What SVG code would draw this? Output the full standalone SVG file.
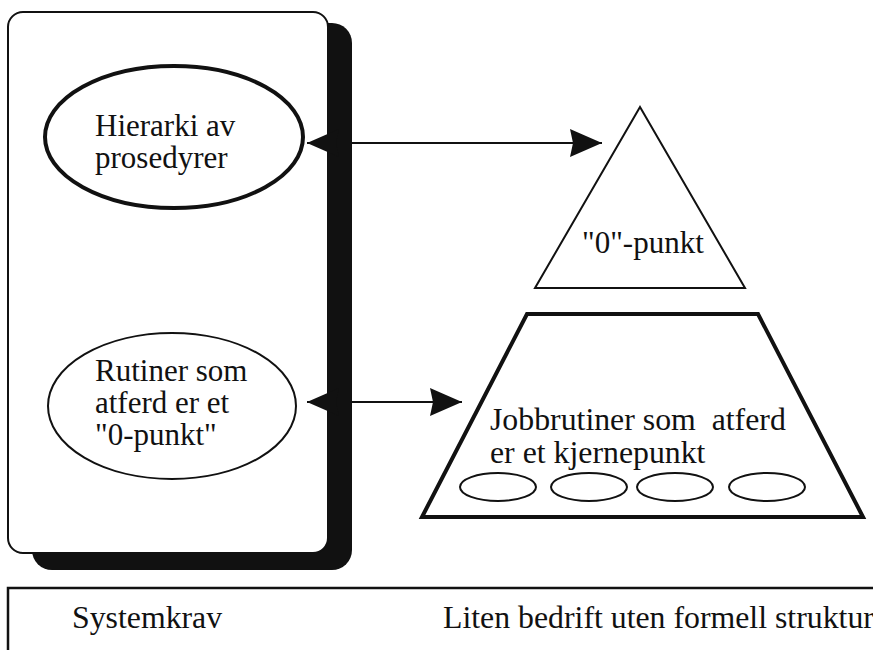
<svg xmlns="http://www.w3.org/2000/svg" width="873" height="650" viewBox="0 0 873 650">
  <style>
    .lbl { font-family: "Liberation Serif", "Times New Roman", serif; font-size: 31px; fill: #111; }
    .wide { font-size: 31.8px; }
    .thin { fill: #fff; stroke: #111; stroke-width: 2; }
    .thick { fill: #fff; stroke: #111; stroke-width: 4; }
    .conn { stroke: #111; stroke-width: 2; fill: none; }
  </style>
  <defs>
    <marker id="head" viewBox="0 0 32 28" refX="32" refY="14" markerWidth="32" markerHeight="28" markerUnits="userSpaceOnUse" orient="auto-start-reverse">
      <path d="M0,0 L32,14 L0,28 L3,14 Z" fill="#111"/>
    </marker>
  </defs>
  <rect width="873" height="650" fill="#fff"/>

  <!-- left panel with drop shadow -->
  <g id="panel">
    <rect x="32" y="23" width="320" height="547" rx="20" fill="#111"/>
    <rect x="8" y="12" width="320" height="541" rx="15" class="thin" stroke-width="2.5"/>
  </g>

  <g id="hierarki">
    <ellipse cx="174" cy="137" rx="129" ry="71" class="thick"/>
    <text class="lbl" x="95" y="136">Hierarki av</text>
    <text class="lbl" x="95" y="168">prosedyrer</text>
  </g>

  <g id="rutiner">
    <ellipse cx="172" cy="406" rx="124" ry="73" class="thin" stroke-width="1.6"/>
    <text class="lbl" x="95" y="381">Rutiner som</text>
    <text class="lbl" x="95" y="413">atferd er et</text>
    <text class="lbl" x="95" y="445">"0-punkt"</text>
  </g>

  <g id="nullpunkt">
    <polygon points="640,107 745,288 535,288" class="thin"/>
    <text class="lbl" x="582" y="253">"0"-punkt</text>
  </g>

  <g id="jobbrutiner">
    <polygon points="527,314 758,314 863,517 422,517" class="thick" stroke-linejoin="miter"/>
    <text class="lbl wide" x="490" y="430" xml:space="preserve">Jobbrutiner som  atferd</text>
    <text class="lbl wide" x="490" y="463">er et kjernepunkt</text>
    <ellipse cx="498" cy="487" rx="38" ry="14" class="thin"/>
    <ellipse cx="589" cy="487" rx="38" ry="14" class="thin"/>
    <ellipse cx="675" cy="487" rx="38" ry="14" class="thin"/>
    <ellipse cx="767" cy="487" rx="38" ry="14" class="thin"/>
  </g>

  <g id="connectors">
    <line x1="307" y1="143" x2="602" y2="143" class="conn" marker-start="url(#head)" marker-end="url(#head)"/>
    <line x1="307" y1="402" x2="462" y2="402" class="conn" marker-start="url(#head)" marker-end="url(#head)"/>
  </g>

  <g id="footer">
    <rect x="8" y="588" width="900" height="100" fill="#fff" stroke="#111" stroke-width="2.5"/>
    <text class="lbl wide" x="72" y="628">Systemkrav</text>
    <text class="lbl wide" x="443" y="628">Liten bedrift uten formell struktur</text>
  </g>
</svg>
